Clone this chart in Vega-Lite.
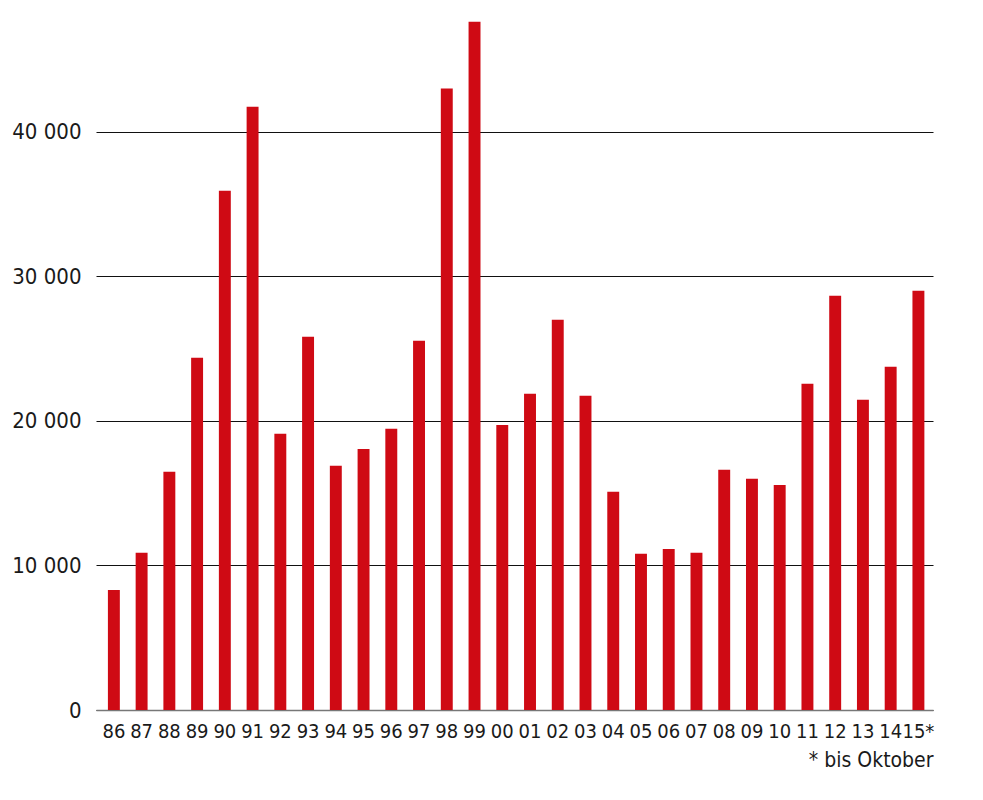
{
  "$schema": "https://vega.github.io/schema/vega-lite/v6.json",
  "width": 837,
  "height": 694,
  "autosize": "none",
  "padding": {"left": 96, "top": 16, "right": 50, "bottom": 90},
  "background": "white",
  "config": {
    "view": {"stroke": null},
    "font": "DejaVu Sans Condensed, Liberation Sans Narrow, sans-serif"
  },
  "data": {
    "values": [
      {"jahr": "86", "wert": 8300},
      {"jahr": "87", "wert": 10870},
      {"jahr": "88", "wert": 16470},
      {"jahr": "89", "wert": 24360},
      {"jahr": "90", "wert": 35920},
      {"jahr": "91", "wert": 41730},
      {"jahr": "92", "wert": 19100},
      {"jahr": "93", "wert": 25810},
      {"jahr": "94", "wert": 16890},
      {"jahr": "95", "wert": 18060},
      {"jahr": "96", "wert": 19450},
      {"jahr": "97", "wert": 25540},
      {"jahr": "98", "wert": 42980},
      {"jahr": "99", "wert": 47610},
      {"jahr": "00", "wert": 19720},
      {"jahr": "01", "wert": 21870},
      {"jahr": "02", "wert": 26990},
      {"jahr": "03", "wert": 21730},
      {"jahr": "04", "wert": 15090},
      {"jahr": "05", "wert": 10800},
      {"jahr": "06", "wert": 11140},
      {"jahr": "07", "wert": 10870},
      {"jahr": "08", "wert": 16610},
      {"jahr": "09", "wert": 15990},
      {"jahr": "10", "wert": 15570},
      {"jahr": "11", "wert": 22560},
      {"jahr": "12", "wert": 28650},
      {"jahr": "13", "wert": 21450},
      {"jahr": "14", "wert": 23740},
      {"jahr": "15*", "wert": 29000}
    ]
  },
  "mark": {"type": "bar", "color": "#cf0a14"},
  "encoding": {
    "x": {
      "field": "jahr",
      "type": "ordinal",
      "sort": null,
      "scale": {"paddingInner": 0.57, "paddingOuter": 0.37, "align": 0.58},
      "axis": {
        "title": "* bis Oktober",
        "titleAnchor": "end",
        "titleAlign": "right",
        "titleFontSize": 21,
        "titleFontWeight": "normal",
        "titleColor": "#1a1a1a",
        "titlePadding": 8,
        "labelAngle": 0,
        "labelFontSize": 20,
        "labelColor": "#1a1a1a",
        "labelPadding": 11,
        "ticks": false,
        "domainColor": "#777777",
        "domainWidth": 1.5,
        "grid": false
      }
    },
    "y": {
      "field": "wert",
      "type": "quantitative",
      "scale": {"domain": [0, 48000], "nice": false},
      "axis": {
        "title": null,
        "values": [0, 10000, 20000, 30000, 40000],
        "labelExpr": "datum.value == 0 ? '0' : replace(format(datum.value, ','), ',', ' ')",
        "labelFontSize": 22,
        "labelColor": "#1a1a1a",
        "labelPadding": 15,
        "ticks": false,
        "domain": false,
        "grid": true,
        "gridColor": "#111111",
        "gridWidth": 1
      }
    }
  }
}
